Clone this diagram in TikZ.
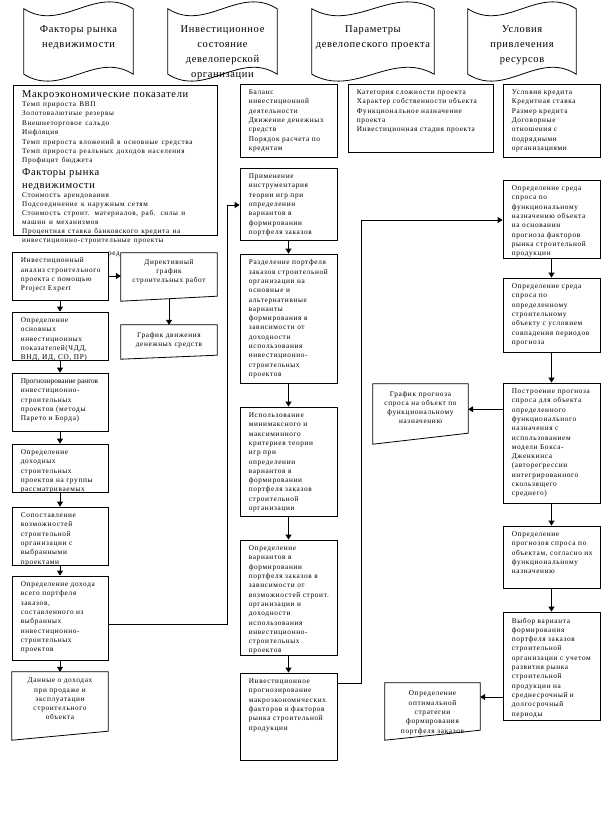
\documentclass[tikz,border=0pt]{standalone}
\usepackage{fontspec}
\setmainfont{Liberation Serif}[LetterSpace=6]
\newfontfamily\boxfont{Liberation Serif}[LetterSpace=9]
\newfontfamily\tightfont{Liberation Serif}[LetterSpace=0]
\usetikzlibrary{arrows.meta,calc}
\newcommand\boxAt[5]{\node[frame, minimum width={(#4-#2)*1pt}, minimum height={(#5-#3)*1pt}] (#1) at ({(#2+#4)/2},{(#3+#5)/2}) {};}
\newcommand\docAt[6]{\node[inner sep=0, minimum width={(#4-#2)*1pt}, minimum height={(#5-#3)*1pt}] (#1) at ({(#2+#4)/2},{(#3+#5)/2}) {};
 \draw[ln] (#1.north west) -- (#1.north east) -- ([yshift=#6pt]#1.south east) -- ([yshift=-#6pt]#1.south west) -- cycle;}
\newcommand\tapeAt[5]{\node[inner sep=0, minimum width={(#4-#2)*1pt}, minimum height={(#5-#3)*1pt}] (#1) at ({(#2+#4)/2},{(#3+#5)/2}) {};
 \draw[ln] (#1.north west) .. controls +({0.35*(#4-#2)},24) and +({-0.35*(#4-#2)},-24) .. (#1.north east) -- (#1.south east) .. controls +({-0.35*(#4-#2)},-24) and +({0.35*(#4-#2)},24) .. (#1.south west) -- cycle;}
\newcommand\textIn[2]{\node[txt] (#1-t) at ([shift={(9,6)}]#1.north west) {#2};}
\begin{document}
\begin{tikzpicture}[x=1pt,y=-1pt,
  ln/.style={line width=0.8pt},
  frame/.style={draw, line width=0.8pt, inner sep=0},
  arr/.style={line width=0.8pt, -{Triangle[length=5pt,width=6pt]}},
  txt/.style={anchor=north west, inner sep=0, align=left, font=\boxfont\fontsize{7.3}{9.3}\selectfont},
  ctxt/.style={anchor=north, inner sep=0, align=center, font=\boxfont\fontsize{7.3}{9.3}\selectfont},
  htxt/.style={anchor=north, inner sep=0, align=center, font=\fontsize{10.5}{15}\selectfont}]
\fill[white] (0,0) rectangle (613,817);
\useasboundingbox (0,0) rectangle (613,817);
% headers
\tapeAt{h1}{24}{9}{133}{74}
\tapeAt{h2}{168}{9}{277}{74}
\tapeAt{h3}{312}{9}{434}{74}
\tapeAt{h4}{468}{9}{576}{74}
\node[htxt] (h1-t) at (h1.center |- 0,25) {Факторы рынка\\недвижимости};
\node[htxt] (h2-t) at (h2.center |- 0,25) {Инвестиционное\\состояние\\девелоперской\\организации};
\node[htxt] (h3-t) at (h3.center |- 0,25) {Параметры\\девелопеского проекта};
\node[htxt] (h4-t) at (h4.center |- 0,25) {Условия\\привлечения\\ресурсов};
% top row
\boxAt{macro}{13}{85}{217}{235}
\node[anchor=north west, inner sep=0, text width=190pt, align=left] (macro-t) at (22,90) {%
{\fontsize{10.5}{12}\selectfont Макроэкономические показатели\par}
{\boxfont\fontsize{7.2}{9.4}\selectfont Темп прироста ВВП\\Золотовалютные резервы\\Внешнеторговое сальдо\\Инфляция\\Темп прироста вложений в основные средства\\Темп прироста реальных доходов населения\\Профицит бюджета\par}
{\fontsize{10.5}{13}\selectfont Факторы рынка\\недвижимости\par}
{\boxfont\fontsize{7.2}{9}\selectfont Стоимость арендования\\Подсоединение к наружным сетям\\\makebox[186pt][s]{Стоимость строит. материалов, раб. силы и}\\машин и механизмов\\\makebox[186pt][s]{Процентная ставка банковского кредита на}\\инвестиционно-строительные проекты\par}};
\boxAt{m0}{240}{84}{337}{157}
\textIn{m0}{Баланс\\инвестиционной\\деятельности\\Движение денежных\\средств\\Порядок расчета по\\кредитам}
\boxAt{p0}{348}{84}{493}{152}
\textIn{p0}{Категория сложности проекта\\Характер собственности объекта\\Функциональное назначение\\проекта\\Инвестиционная стадия проекта}
\boxAt{r0}{503}{84}{600}{157}
\textIn{r0}{Условия кредита\\Кредитная ставка\\Размер кредита\\Договорные\\отношения с\\подрядными\\организациями}
% left column
\node[anchor=base west, inner sep=0, font=\boxfont\fontsize{7.2}{9}\selectfont] (frag) at (108,255) {ред};
\boxAt{b1}{12}{252}{108}{300}
\textIn{b1}{Инвестиционный\\анализ строительного\\проекта с помощью\\Project Expert}
\boxAt{b2}{12}{312}{108}{360}
\textIn{b2}{Определение\\основных\\инвестиционных\\показателей(ЧДД,\\ВНД, ИД, СО, ПР)}
\boxAt{b3}{12}{373}{108}{431}
\textIn{b3}{{\tightfont Прогнозирование рангов}\\инвестиционно-\\строительных\\проектов (методы\\Парето и Борда)}
\boxAt{b4}{12}{444}{108}{492}
\textIn{b4}{Определение\\доходных\\строительных\\проектов на группы\\рассматриваемых}
\boxAt{b5}{12}{507}{108}{565}
\textIn{b5}{Сопоставление\\возможностей\\строительной\\организации с\\выбранными\\проектами}
\boxAt{b6}{12}{576}{108}{660}
\textIn{b6}{Определение дохода\\всего портфеля\\заказов,\\составленного из\\выбранных\\инвестиционно-\\строительных\\проектов}
\docAt{b7}{12}{672}{108}{735.5}{4.5}
\node[ctxt] (b7-t) at ([yshift=-6pt]b7.north) {Данные о доходах\\при продаже и\\эксплуатации\\строительного\\объекта};
\docAt{dir}{121}{253}{217}{298.5}{2.5}
\node[ctxt] (dir-t) at ([yshift=-6pt]dir.north) {Директивный\\график\\строительных работ};
\docAt{cash}{121}{325}{217}{357}{2}
\node[ctxt] (cash-t) at ([yshift=-7pt]cash.north) {График движения\\денежных средств};
\draw[arr] (b1.east) -- (b1.east -| dir.west);
\draw[arr] (dir.south) -- (cash.north);
\draw[arr] (b1.south) -- (b2.north);
\draw[arr] (b2.south) -- (b3.north);
\draw[arr] (b3.south) -- (b4.north);
\draw[arr] (b4.south) -- (b5.north);
\draw[arr] (b5.south) -- (b6.north);
\draw[arr] (b6.south) -- (b7.north);
% middle column
\boxAt{m1}{240}{168}{337}{240}
\textIn{m1}{Применение\\инструментария\\теории игр при\\определении\\вариантов в\\формировании\\портфеля заказов}
\boxAt{m2}{240}{254}{337}{383}
\textIn{m2}{Разделение портфеля\\заказов строительной\\организации на\\основные и\\альтернативные\\варианты\\формирования в\\зависимости от\\доходности\\использования\\инвестиционно-\\строительных\\проектов}
\boxAt{m3}{240}{407}{337}{516}
\textIn{m3}{Использование\\минимаксного и\\максиминного\\критериев теории\\игр при\\определении\\вариантов в\\формировании\\портфеля заказов\\строительной\\организации}
\boxAt{m4}{240}{540}{337}{655}
\textIn{m4}{Определение\\вариантов в\\формировании\\портфеля заказов в\\зависимости от\\возможностей строит.\\организации и\\доходности\\использования\\инвестиционно-\\строительных\\проектов}
\boxAt{m5}{240}{673}{337}{760}
\textIn{m5}{Инвестиционное\\прогнозирование\\макроэкономических\\факторов и факторов\\рынка строительной\\продукции}
\draw[arr] (m1.south) -- (m2.north);
\draw[arr] (m2.south) -- (m3.north);
\draw[arr] (m3.south) -- (m4.north);
\draw[arr] (m4.south) -- (m5.north);
\coordinate (lbus) at (227,205);
\draw[arr] ([yshift=-6pt]b6.east) -| (lbus) -- (lbus -| m1.west);
% right column
\boxAt{r1}{503}{180}{600}{258}
\textIn{r1}{Определение среда\\спроса по\\функциональному\\назначению объекта\\на основании\\прогноза факторов\\рынка строительной\\продукции}
\boxAt{r2}{503}{278}{600}{352}
\textIn{r2}{Определение среда\\спроса по\\определенному\\строительному\\объекту с условием\\совпадения периодов\\прогноза}
\boxAt{r3}{503}{383}{600}{503}
\textIn{r3}{Построение прогноза\\спроса для объекта\\определенного\\функционального\\назначения с\\использованием\\модели Бокса-\\Дженкинса\\(авторегрессии\\интегрированного\\скользящего\\среднего)}
\boxAt{r4}{503}{526}{600}{588}
\textIn{r4}{Определение\\прогнозов спроса по\\объектам, согласно их\\функциональному\\назначению}
\boxAt{r5}{503}{612}{600}{720}
\textIn{r5}{Выбор варианта\\формирования\\портфеля заказов\\строительной\\организации с учетом\\развития рынка\\строительной\\продукции на\\среднесрочный и\\долгосрочный\\периоды}
\docAt{fc}{373}{384}{468}{438.5}{5.5}
\node[ctxt] (fc-t) at ([yshift=-7pt]fc.north) {График прогноза\\спроса на объект по\\функциональному\\назначению};
\docAt{opt}{385}{683}{480}{735}{5}
\node[ctxt] (opt-t) at ([yshift=-8pt]opt.north) {Определение\\оптимальной\\стратегии\\формирования\\портфеля заказов};
\draw[arr] (r1.south) -- (r2.north);
\draw[arr] (r2.south) -- (r3.north);
\draw[arr] (r3.south) -- (r4.north);
\draw[arr] (r4.south) -- (r5.north);
\coordinate (fcin) at ([yshift=2pt]fc.east);
\draw[arr] (fcin -| r3.west) -- (fcin);
\coordinate (optin) at ([yshift=12pt]opt.east);
\draw[arr] (optin -| r5.west) -- (optin);
\coordinate (rbus) at (361,220);
\draw[arr] ([yshift=33.5pt]m5.east) -| (rbus) -- (rbus -| r1.west);
\end{tikzpicture}
\end{document}
